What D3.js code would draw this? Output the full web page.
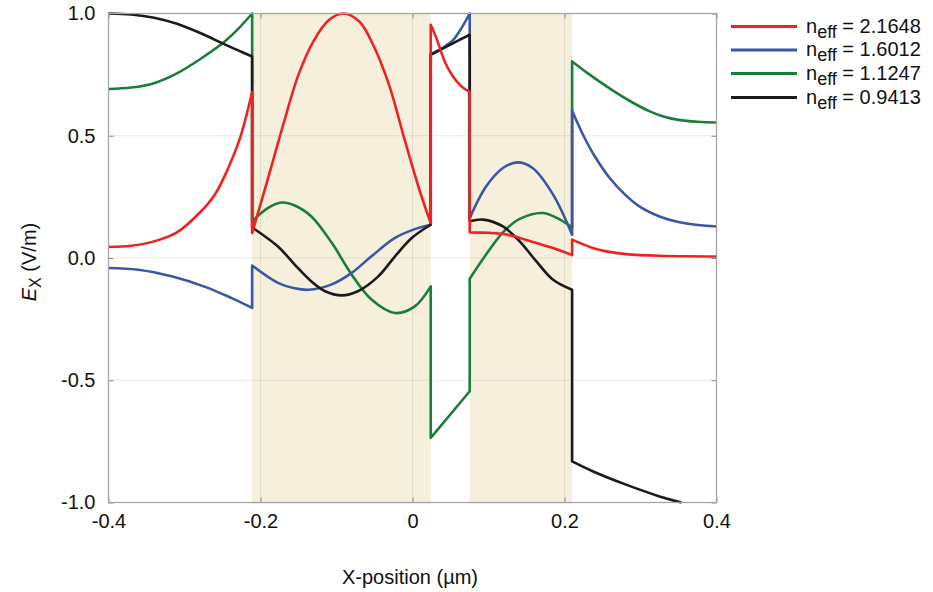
<!DOCTYPE html>
<html><head><meta charset="utf-8">
<script src="https://cdn.jsdelivr.net/npm/d3@7"></script>
<style>body{margin:0;background:#fff}svg{display:block;font-family:"Liberation Sans",Arial,sans-serif}</style>
</head><body><svg id="c" width="933" height="592"></svg>
<script>
// ---- data ----
const xTicks = [-0.4, -0.2, 0, 0.2, 0.4];
const xTickLabels = ["-0.4", "-0.2", "0", "0.2", "0.4"];
const yTicks = [1.0, 0.5, 0.0, -0.5, -1.0];
const yTickLabels = ["1.0", "0.5", "0.0", "-0.5", "-1.0"];
const coreRegions = [[-0.211, 0.024], [0.0753, 0.21]];
const neffLabels = ["2.1648", "1.6012", "1.1247", "0.9413"];
const seriesColors = ["#ee2222", "#3a56a5", "#1b7d3a", "#1a1a1a"];

const redPts = [
 [-0.4,0.045],[-0.37,0.05],[-0.34,0.068],[-0.31,0.105],[-0.28,0.185],[-0.26,0.26],[-0.245,0.35],[-0.227,0.49],[-0.211,0.679],
 [-0.211,0.102],[-0.19,0.327],[-0.17,0.546],[-0.15,0.75],[-0.13,0.888],[-0.11,0.973],[-0.091,1.0],[-0.07,0.967],[-0.05,0.86],[-0.03,0.70],[-0.01,0.48],[0.01,0.27],[0.024,0.143],
 [0.024,0.954],[0.0315,0.899],[0.0424,0.804],[0.0533,0.742],[0.0644,0.702],[0.0753,0.679],
 [0.0753,0.105],[0.10,0.103],[0.12,0.098],[0.141,0.082],[0.163,0.061],[0.185,0.041],[0.21,0.012],
 [0.21,0.075],[0.237,0.041],[0.255,0.027],[0.281,0.016],[0.325,0.009],[0.4,0.006]
];
const bluePts = [
 [-0.4,-0.041],[-0.361,-0.048],[-0.317,-0.075],[-0.273,-0.118],[-0.238,-0.164],[-0.211,-0.204],
 [-0.211,-0.031],[-0.177,-0.102],[-0.155,-0.124],[-0.137,-0.130],[-0.107,-0.109],[-0.080,-0.061],[-0.054,0.007],[-0.023,0.082],[0.003,0.118],[0.024,0.136],
 [0.024,0.834],[0.0424,0.865],[0.0536,0.892],[0.0644,0.94],[0.0753,1.0],
 [0.0753,0.163],[0.097,0.293],[0.119,0.368],[0.138,0.391],[0.158,0.368],[0.185,0.259],[0.21,0.095],
 [0.21,0.602],[0.225,0.50],[0.24,0.415],[0.26,0.325],[0.28,0.258],[0.30,0.208],[0.325,0.170],[0.35,0.147],[0.375,0.135],[0.4,0.129]
];
const greenPts = [
 [-0.4,0.691],[-0.37,0.697],[-0.34,0.715],[-0.31,0.755],[-0.28,0.812],[-0.25,0.878],[-0.23,0.935],[-0.211,1.0],
 [-0.211,0.150],[-0.19,0.205],[-0.172,0.227],[-0.155,0.215],[-0.133,0.170],[-0.106,0.061],[-0.080,-0.068],[-0.054,-0.170],[-0.023,-0.225],[0.003,-0.198],[0.024,-0.116],
 [0.024,-0.736],[0.0753,-0.545],
 [0.0753,-0.085],[0.097,0.015],[0.119,0.105],[0.141,0.160],[0.172,0.184],[0.194,0.157],[0.21,0.125],
 [0.21,0.804],[0.23,0.757],[0.25,0.713],[0.27,0.672],[0.29,0.635],[0.31,0.603],[0.33,0.579],[0.35,0.565],[0.375,0.557],[0.4,0.554]
];
const blackPts = [
 [-0.4,1.0],[-0.37,0.996],[-0.34,0.983],[-0.31,0.958],[-0.28,0.921],[-0.25,0.878],[-0.23,0.85],[-0.211,0.824],
 [-0.211,0.125],[-0.177,0.047],[-0.155,-0.027],[-0.133,-0.096],[-0.115,-0.136],[-0.093,-0.153],[-0.072,-0.136],[-0.045,-0.075],[-0.023,0.007],[-0.001,0.082],[0.024,0.136],
 [0.024,0.831],[0.0536,0.879],[0.0753,0.913],
 [0.0753,0.150],[0.093,0.157],[0.119,0.129],[0.141,0.068],[0.163,-0.014],[0.185,-0.089],[0.21,-0.130],
 [0.21,-0.832],[0.237,-0.872],[0.281,-0.927],[0.325,-0.975],[0.354,-1.0]
];
const seriesPts = [redPts, bluePts, greenPts, blackPts];
const drawOrder = [2, 1, 3, 0]; // green, blue, black, red (red on top)

// ---- layout ----
const L = 108.5, R = 716.5, T = 13.5, B = 502.5;
const FONT = "Liberation Sans, Arial, sans-serif";
const svg = d3.select("#c");
const x = d3.scaleLinear().domain([-0.4, 0.4]).range([L, R]);
const y = d3.scaleLinear().domain([-1, 1]).range([B, T]);

// core shading
svg.append("g").selectAll("rect").data(coreRegions).join("rect")
  .attr("x", d => x(d[0])).attr("width", d => x(d[1]) - x(d[0]))
  .attr("y", T).attr("height", B - T + 1).attr("fill", "#f6efdc");

// grid
const grid = svg.append("g").attr("stroke", "rgba(0,0,0,0.08)").attr("stroke-width", 1);
grid.selectAll(".h").data(yTicks.slice(1, -1)).join("line")
  .attr("x1", L).attr("x2", R).attr("y1", d => y(d)).attr("y2", d => y(d));
grid.selectAll(".v").data(xTicks.slice(1, -1)).join("line")
  .attr("y1", T).attr("y2", B).attr("x1", d => x(d)).attr("x2", d => x(d));

// axes (ticks inward on all sides)
const tickStyle = g => { g.select(".domain").remove(); g.selectAll(".tick line").attr("stroke", "#888"); };
const labStyle = g => g.selectAll("text").attr("font-size", 20).attr("fill", "#111").attr("font-family", FONT);
svg.append("g").attr("transform", `translate(0,${B})`)
  .call(d3.axisBottom(x).tickValues(xTicks).tickSize(-5).tickPadding(11).tickFormat((d, i) => xTickLabels[i]))
  .call(tickStyle).call(labStyle);
svg.append("g").attr("transform", `translate(0,${T})`)
  .call(d3.axisTop(x).tickValues(xTicks).tickSize(-5).tickFormat(""))
  .call(tickStyle);
svg.append("g").attr("transform", `translate(${L},0)`)
  .call(d3.axisLeft(y).tickValues(yTicks).tickSize(-5).tickPadding(13).tickFormat((d, i) => yTickLabels[i]))
  .call(tickStyle).call(labStyle);
svg.append("g").attr("transform", `translate(${R},0)`)
  .call(d3.axisRight(y).tickValues(yTicks).tickSize(-5).tickFormat(""))
  .call(tickStyle);

// series
const line = d3.line().x(d => x(d[0])).y(d => y(d[1])).curve(d3.curveCatmullRom.alpha(0.5));
function pathFor(pts) {
  const segs = [];
  let cur = [pts[0]];
  for (let i = 1; i < pts.length; i++) {
    if (pts[i][0] === pts[i - 1][0]) { segs.push(cur); cur = [pts[i]]; }
    else cur.push(pts[i]);
  }
  segs.push(cur);
  return segs.map((s, i) => { const d = line(s); return i === 0 ? d : "L" + d.slice(1); }).join("");
}
const plot = svg.append("g");
drawOrder.forEach(i => {
  plot.append("path").attr("d", pathFor(seriesPts[i]))
    .attr("fill", "none").attr("stroke", seriesColors[i]).attr("stroke-width", 2.6)
    .attr("stroke-linejoin", "round").attr("stroke-linecap", "butt");
});

// frame
svg.append("rect").attr("x", L).attr("y", T).attr("width", R - L).attr("height", B - T)
  .attr("fill", "none").attr("stroke", "#a6a6a6").attr("stroke-width", 1.3);

// legend
const legY = [26.5, 50, 73.5, 97.5];
const leg = svg.append("g").attr("font-family", FONT);
neffLabels.forEach((lab, i) => {
  leg.append("line").attr("x1", 731).attr("x2", 797).attr("y1", legY[i]).attr("y2", legY[i])
    .attr("stroke", seriesColors[i]).attr("stroke-width", 3.2);
  const t = leg.append("text").attr("x", 806).attr("y", legY[i] + 6).attr("font-size", 20).attr("fill", "#111");
  t.append("tspan").text("n");
  t.append("tspan").attr("dy", 5).attr("font-size", 18).text("eff");
  t.append("tspan").attr("dy", -5).text(" = " + lab);
});

// axis titles
svg.append("text").attr("x", 410).attr("y", 584).attr("text-anchor", "middle").attr("font-family", FONT)
  .attr("font-size", 20).attr("fill", "#111").text("X-position (µm)");
const yt = svg.append("text").attr("transform", "translate(36,262) rotate(-90)").attr("font-family", FONT)
  .attr("text-anchor", "middle").attr("font-size", 20).attr("fill", "#111");
yt.append("tspan").attr("font-style", "italic").text("E");
yt.append("tspan").attr("dy", 5).attr("font-size", 16).text("X");
yt.append("tspan").attr("dy", -5).text(" (V/m)");
</script></body></html>
